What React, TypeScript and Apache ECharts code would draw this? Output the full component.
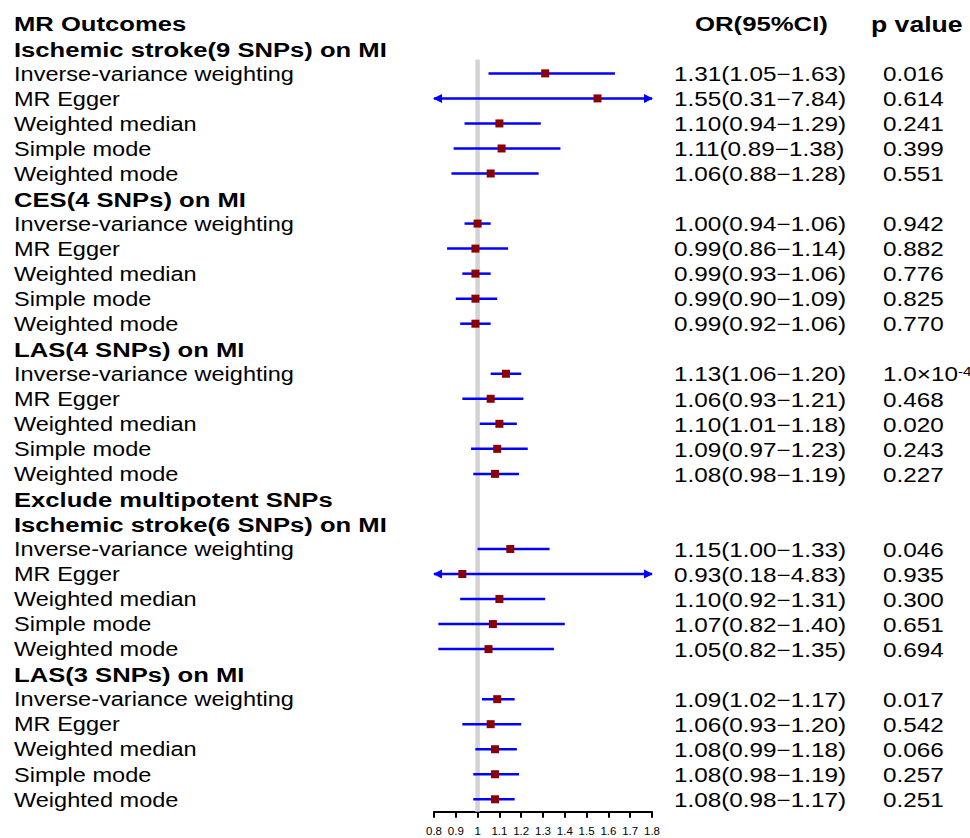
import React, { useEffect, useRef } from "react";
import * as echarts from "echarts";

// ---------- data ----------
const rowLabels: string[] = [
  "MR Outcomes",
  "Ischemic stroke(9 SNPs) on MI",
  "Inverse-variance weighting",
  "MR Egger",
  "Weighted median",
  "Simple mode",
  "Weighted mode",
  "CES(4 SNPs) on MI",
  "Inverse-variance weighting",
  "MR Egger",
  "Weighted median",
  "Simple mode",
  "Weighted mode",
  "LAS(4 SNPs) on MI",
  "Inverse-variance weighting",
  "MR Egger",
  "Weighted median",
  "Simple mode",
  "Weighted mode",
  "Exclude multipotent SNPs",
  "Ischemic stroke(6 SNPs) on MI",
  "Inverse-variance weighting",
  "MR Egger",
  "Weighted median",
  "Simple mode",
  "Weighted mode",
  "LAS(3 SNPs) on MI",
  "Inverse-variance weighting",
  "MR Egger",
  "Weighted median",
  "Simple mode",
  "Weighted mode",
];

const orEstimate: (number | null)[] = [
  null, null, 1.31, 1.55, 1.10, 1.11, 1.06,
  null, 1.00, 0.99, 0.99, 0.99, 0.99,
  null, 1.13, 1.06, 1.10, 1.09, 1.08,
  null, null, 1.15, 0.93, 1.10, 1.07, 1.05,
  null, 1.09, 1.06, 1.08, 1.08, 1.08,
];
const lowerCI: (number | null)[] = [
  null, null, 1.05, 0.31, 0.94, 0.89, 0.88,
  null, 0.94, 0.86, 0.93, 0.90, 0.92,
  null, 1.06, 0.93, 1.01, 0.97, 0.98,
  null, null, 1.00, 0.18, 0.92, 0.82, 0.82,
  null, 1.02, 0.93, 0.99, 0.98, 0.98,
];
const upperCI: (number | null)[] = [
  null, null, 1.63, 7.84, 1.29, 1.38, 1.28,
  null, 1.06, 1.14, 1.06, 1.09, 1.06,
  null, 1.20, 1.21, 1.18, 1.23, 1.19,
  null, null, 1.33, 4.83, 1.31, 1.40, 1.35,
  null, 1.17, 1.20, 1.18, 1.19, 1.17,
];
const pValues: (number | null)[] = [
  null, null, 0.016, 0.614, 0.241, 0.399, 0.551,
  null, 0.942, 0.882, 0.776, 0.825, 0.770,
  null, 1.0e-4, 0.468, 0.020, 0.243, 0.227,
  null, null, 0.046, 0.935, 0.300, 0.651, 0.694,
  null, 0.017, 0.542, 0.066, 0.257, 0.251,
];
const orHeader = "OR(95%CI)";
const pHeader = "p value";
const nullValue = 1;
const axisMin = 0.8;
const axisMax = 1.8;
const axisStep = 0.1;

// ---------- chart ----------
const FONT = "'Liberation Sans', Arial, sans-serif";
const SX = 1.22; // horizontal stretch of the reference's text
const nRows = rowLabels.length;

const ciData: number[][] = [];
const pointData: number[][] = [];
orEstimate.forEach((v, i) => {
  if (v != null && lowerCI[i] != null && upperCI[i] != null) {
    ciData.push([i, lowerCI[i] as number, upperCI[i] as number]);
    pointData.push([v, i]);
  }
});
const textRows = rowLabels.map((_, i) => [axisMin, i]);

function orText(i: number): string {
  const o = orEstimate[i];
  if (o == null) return "";
  return `${o.toFixed(2)}(${(lowerCI[i] as number).toFixed(2)}−${(upperCI[i] as number).toFixed(2)})`;
}

function pText(p: number): string {
  if (p < 0.001) {
    const exp = Math.floor(Math.log10(p));
    const mant = p / Math.pow(10, exp);
    return `{n|${mant.toFixed(1)}×10}{sup|${exp}}`;
  }
  return `{n|${p.toFixed(3)}}`;
}

function txt(x: number, y: number, text: string, size: number, bold: boolean, rich?: any) {
  const style: any = {
    text,
    x: 0,
    y: 0,
    fontFamily: FONT,
    fontSize: size,
    fontWeight: bold ? "bold" : "normal",
    fill: "#000",
    align: "left",
    verticalAlign: "middle",
  };
  if (rich) style.rich = rich;
  return { type: "text", x, y, scaleX: SX, scaleY: 1, silent: true, style };
}

const pRich = {
  n: { fontFamily: FONT, fontSize: 19.9, fill: "#000", color: "#000" },
  sup: { fontFamily: FONT, fontSize: 12.5, fill: "#000", color: "#000", verticalAlign: "top", padding: [0, 0, 6, 0] },
};

const option: any = {
  animation: false,
  backgroundColor: "#ffffff",
  textStyle: { fontFamily: FONT },
  grid: {
    left: 434,
    right: 318,
    top: 10.8,
    bottom: 26.2,
    containLabel: false,
    outerBoundsMode: "none",
  },
  xAxis: {
    type: "value",
    min: axisMin,
    max: axisMax,
    interval: axisStep,
    position: "bottom",
    axisLine: { show: true, onZero: false, lineStyle: { color: "#000", width: 2 } },
    axisTick: { show: true, length: 6, lineStyle: { color: "#000", width: 2 } },
    axisLabel: {
      fontSize: 11.5,
      color: "#000",
      margin: 13,
      fontFamily: FONT,
      formatter: (v: number) => String(+v.toFixed(1)),
    },
    splitLine: { show: false },
  },
  yAxis: { type: "value", inverse: true, min: -0.5, max: nRows - 0.5, show: false },
  series: [
    {
      type: "custom",
      z: 1,
      silent: true,
      data: [[nullValue, 1.45, nRows - 0.5]],
      encode: { x: 0, y: [1, 2] },
      renderItem: (params: any, api: any) => {
        const x = api.value(0);
        const a = api.coord([x, api.value(1)]);
        const b = api.coord([x, api.value(2)]);
        return {
          type: "line",
          shape: { x1: a[0], y1: a[1], x2: b[0], y2: b[1] },
          style: { stroke: "#D3D3D3", lineWidth: 4.5 },
        };
      },
    },
    {
      type: "custom",
      z: 2,
      silent: true,
      data: ciData,
      encode: { x: [1, 2], y: 0 },
      renderItem: (params: any, api: any) => {
        const row = api.value(0);
        const lo = api.value(1);
        const hi = api.value(2);
        const a = api.coord([Math.max(lo, axisMin), row]);
        const b = api.coord([Math.min(hi, axisMax), row]);
        const children: any[] = [
          {
            type: "line",
            shape: { x1: a[0], y1: a[1], x2: b[0], y2: b[1] },
            style: { stroke: "#0000FF", lineWidth: 2.5 },
          },
        ];
        if (lo < axisMin) {
          children.push({
            type: "polygon",
            shape: { points: [[a[0] - 1, a[1]], [a[0] + 8, a[1] - 4.5], [a[0] + 8, a[1] + 4.5]] },
            style: { fill: "#0000FF" },
          });
        }
        if (hi > axisMax) {
          children.push({
            type: "polygon",
            shape: { points: [[b[0] + 1, b[1]], [b[0] - 8, b[1] - 4.5], [b[0] - 8, b[1] + 4.5]] },
            style: { fill: "#0000FF" },
          });
        }
        return { type: "group", children };
      },
    },
    {
      type: "scatter",
      z: 3,
      silent: true,
      symbol: "rect",
      symbolSize: 8,
      itemStyle: { color: "#8B0000", opacity: 1 },
      data: pointData,
    },
    {
      // table texts, placed on each row of the y scale
      type: "custom",
      z: 4,
      silent: true,
      clip: false,
      data: textRows,
      encode: { x: 0, y: 1 },
      renderItem: (params: any, api: any) => {
        const row = api.value(1);
        const L = api.coord([axisMin, row]);
        const R = api.coord([axisMax, row]);
        const y = L[1] + 1;
        const isHeader = orEstimate[row] == null;
        const children: any[] = [
          txt(L[0] - 420, y, rowLabels[row], isHeader ? 21 : 19.3, isHeader),
        ];
        if (row === 0) {
          children.push(txt(R[0] + 43, y, orHeader, 21.1, true));
          children.push(txt(R[0] + 219, y, pHeader, 21.8, true));
        } else if (!isHeader) {
          children.push(txt(R[0] + 22, y, orText(row), 19.9, false));
          const p = pValues[row];
          if (p != null) children.push(txt(R[0] + 231, y, pText(p), 19.9, false, pRich));
        }
        return { type: "group", children };
      },
    },
  ],
};

export default function App() {
  const ref = useRef<HTMLDivElement>(null);
  useEffect(() => {
    if (!ref.current) return;
    const chart = echarts.init(ref.current, null, { renderer: "svg" });
    chart.setOption(option);
    return () => chart.dispose();
  }, []);
  return (
    <div
      ref={ref}
      style={{ position: "fixed", left: 0, top: 0, width: 970, height: 838, background: "#fff" }}
    />
  );
}
